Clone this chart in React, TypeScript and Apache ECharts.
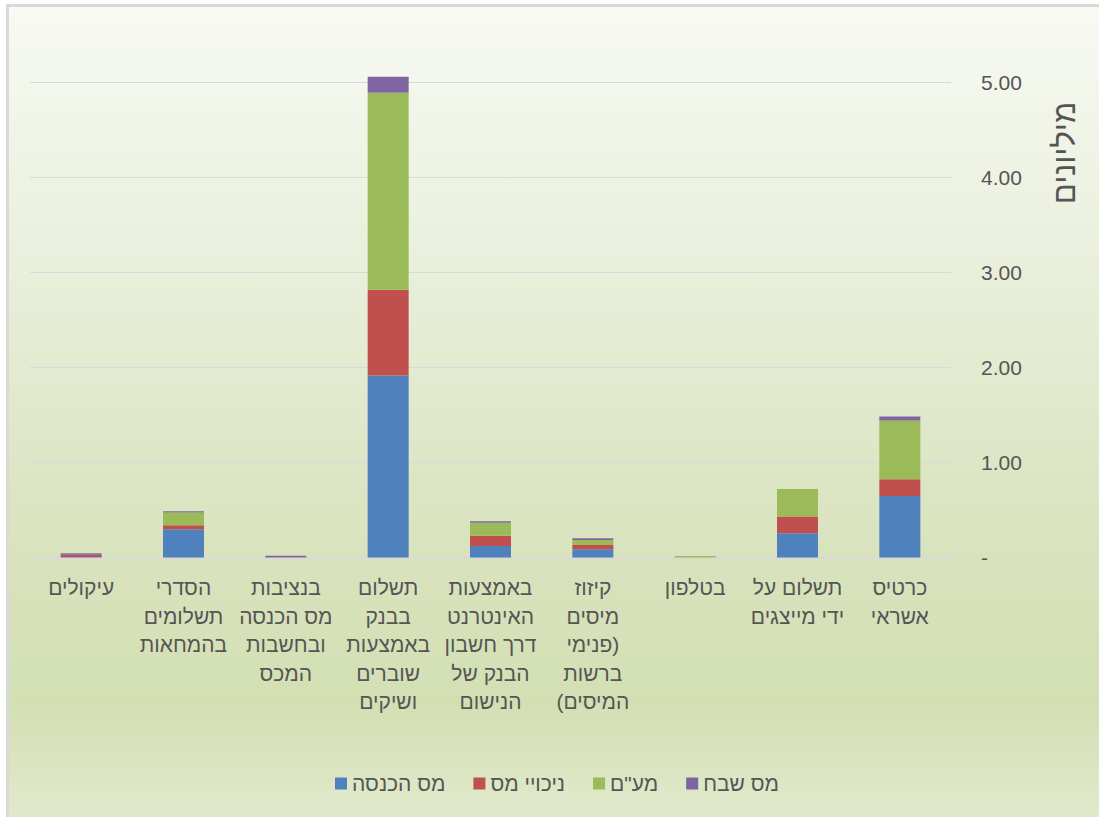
import { useEffect, useRef } from "react";
import * as echarts from "echarts";

const categories = [
  "כרטיס\nאשראי",
  "תשלום על\nידי מייצגים",
  "בטלפון",
  "קיזוז\nמיסים\nפנימי)\nברשות\n(המיסים",
  "באמצעות\nהאינטרנט\nדרך חשבון\nהבנק של\nהנישום",
  "תשלום\nבבנק\nבאמצעות\nשוברים\nושיקים",
  "בנציבות\nמס הכנסה\nובחשבות\nהמכס",
  "הסדרי\nתשלומים\nבהמחאות",
  "עיקולים",
];
const seriesNames = ["מס הכנסה", "ניכויי מס", 'מע"ם', "מס שבח"];
const incomeTax = [0.647, 0.255, 0, 0.086, 0.12, 1.914, 0, 0.297, 0.006];
const withholding = [0.176, 0.176, 0, 0.045, 0.109, 0.902, 0, 0.042, 0.022];
const vat = [0.617, 0.29, 0.015, 0.053, 0.137, 2.07, 0, 0.133, 0];
const capitalGains = [0.042, 0, 0, 0.018, 0.015, 0.168, 0.018, 0.015, 0.016];
const axisTitle = "מיליונים";

const colors = ["#4f81bd", "#c0504d", "#9bbb59", "#8064a2"];
const FONT = "'Liberation Sans', 'DejaVu Sans', Arial, sans-serif";
const TXT = "#555555";

export default function App() {
  const ref = useRef<HTMLDivElement>(null);
  useEffect(() => {
    if (!ref.current) return;
    const chart = echarts.init(ref.current, undefined, { renderer: "svg" });
    const values = [incomeTax, withholding, vat, capitalGains];
    chart.setOption({
      animation: false,
      backgroundColor: "transparent",
      textStyle: { fontFamily: FONT },
      graphic: [
        {
          type: "rect",
          z: -10,
          silent: true,
          shape: { x: 7.5, y: 5.5, width: 1100, height: 820 },
          style: {
            fill: new echarts.graphic.LinearGradient(
              0, 0, 0, 817,
              [
                { offset: 0, color: "#f8faf4" },
                { offset: 0.3, color: "#eaf0dd" },
                { offset: 0.6, color: "#dbe5c3" },
                { offset: 0.86, color: "#d3dfb3" },
                { offset: 1, color: "#e1e9cc" },
              ],
              true
            ),
            stroke: "#d9d9d9",
            lineWidth: 3,
          },
        },
        {
          type: "text",
          x: 1064,
          y: 153,
          rotation: Math.PI / 2,
          silent: true,
          style: {
            text: axisTitle,
            fontSize: 31,
            fontFamily: FONT,
            fill: TXT,
            textAlign: "center",
            textVerticalAlign: "middle",
          },
        },
      ],
      legend: {
        left: 330,
        top: 768,
        itemWidth: 12,
        itemHeight: 12,
        itemGap: 28,
        icon: "rect",
        textStyle: { fontSize: 21, color: TXT, fontFamily: FONT },
        data: seriesNames,
      },
      grid: { left: 30, right: 148, top: 82, bottom: 259.5 },
      xAxis: {
        type: "category",
        inverse: true,
        data: categories,
        axisLine: { lineStyle: { color: "#d9d9d9", width: 2 } },
        axisTick: { show: false },
        axisLabel: {
          interval: 0,
          color: TXT,
          fontSize: 21,
          lineHeight: 28.5,
          margin: 16,
          fontFamily: FONT,
        },
      },
      yAxis: {
        type: "value",
        position: "right",
        min: 0,
        max: 5,
        interval: 1,
        axisLine: { show: false },
        axisTick: { show: false },
        splitLine: { lineStyle: { color: "#d9d9d9", width: 1 } },
        axisLabel: {
          color: TXT,
          fontSize: 21,
          margin: 30,
          fontFamily: FONT,
          formatter: (v: number) => (v === 0 ? "-" : v.toFixed(2)),
        },
      },
      series: seriesNames.map((name, i) => ({
        name,
        type: "bar",
        stack: "total",
        barWidth: 41,
        clip: false,
        data: values[i],
        itemStyle: { color: colors[i] },
      })),
    });
    return () => chart.dispose();
  }, []);
  return (
    <div
      ref={ref}
      style={{ position: "absolute", left: 0, top: 0, width: 1099, height: 817, background: "#ffffff" }}
    />
  );
}
